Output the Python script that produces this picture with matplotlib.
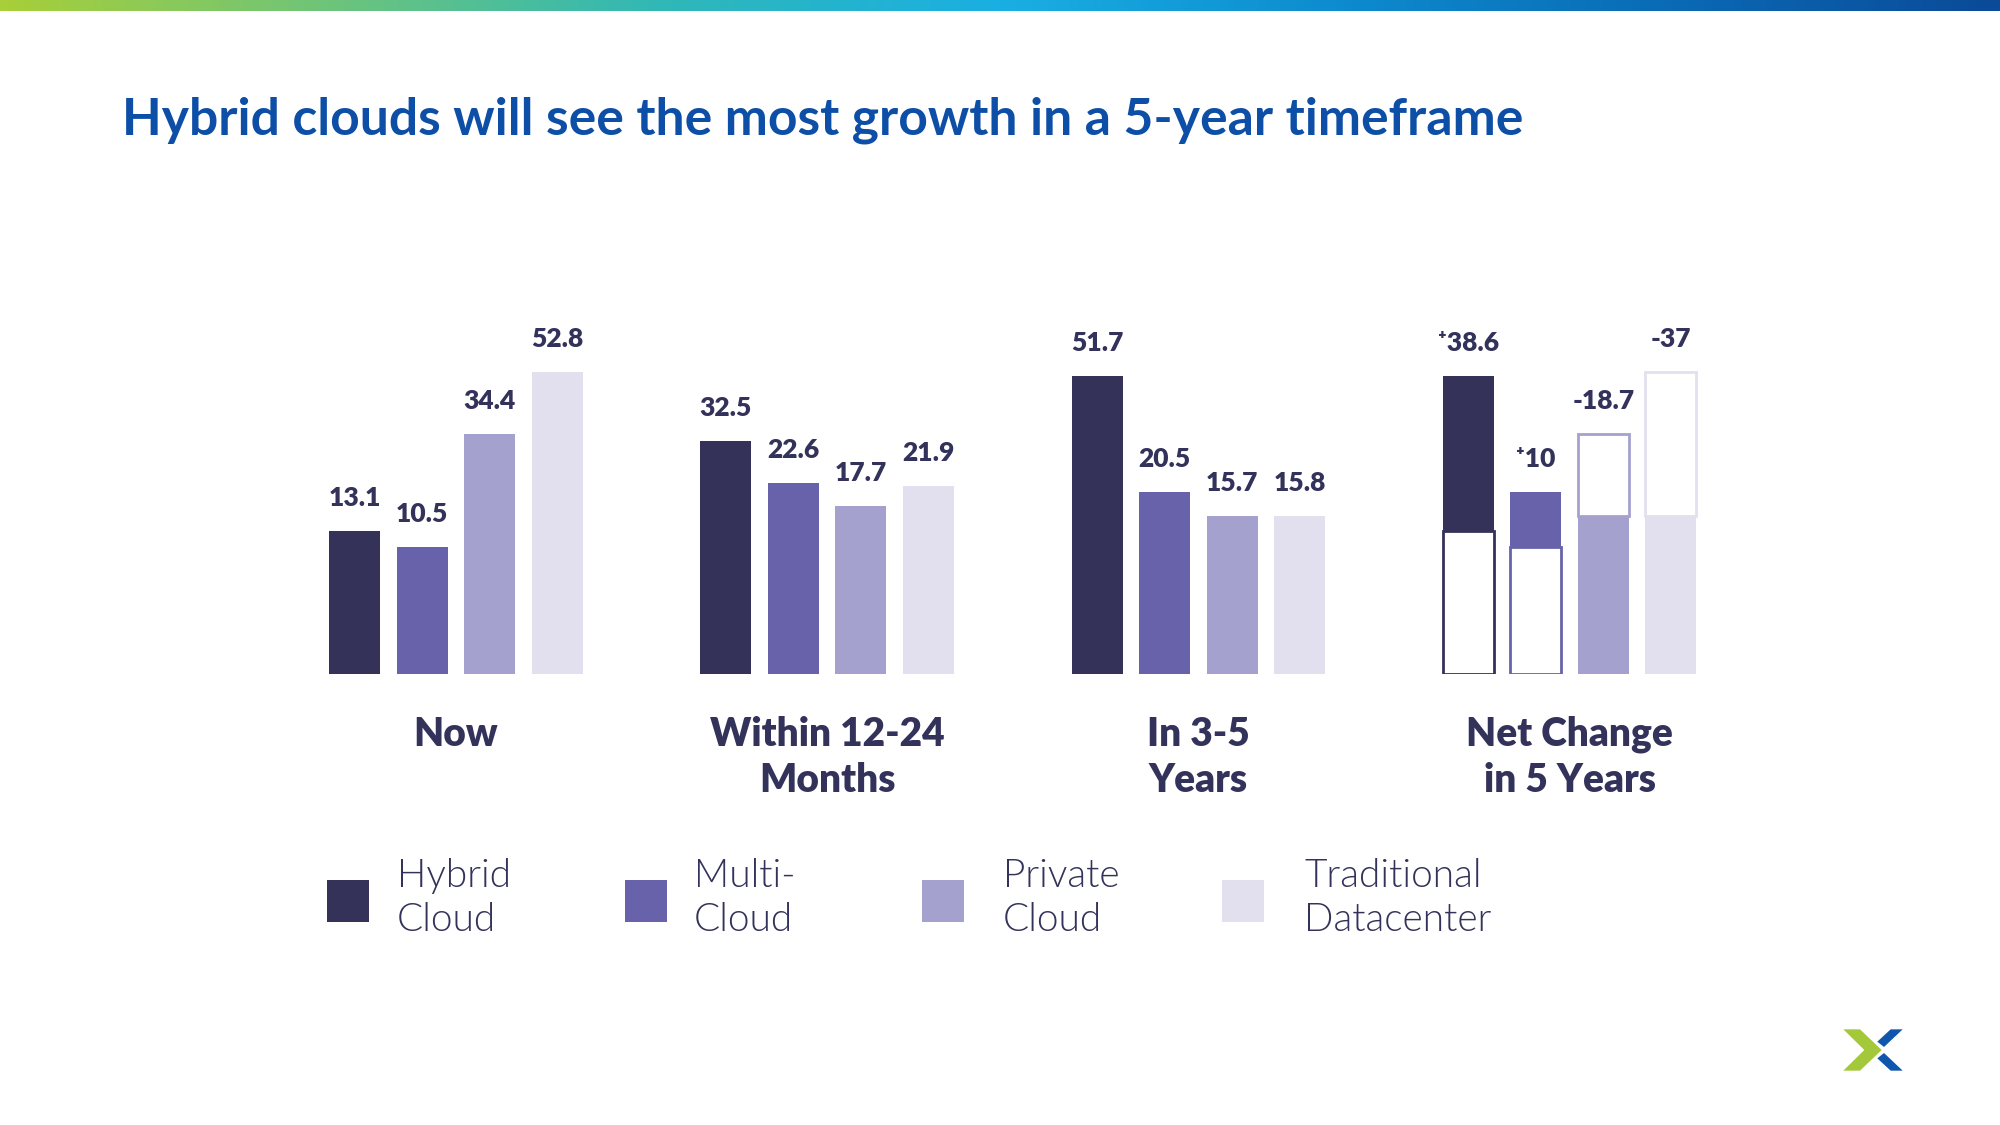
import numpy as np
import matplotlib
matplotlib.use("Agg")
import matplotlib.pyplot as plt
from matplotlib.colors import LinearSegmentedColormap
from matplotlib.patches import Polygon, Rectangle

plt.rcParams['font.family'] = ['Lato', 'DejaVu Sans']

# ---------------- data ----------------
title = "Hybrid clouds will see the most growth in a 5-year timeframe"
groups = ["Now", "Within 12-24\nMonths", "In 3-5\nYears", "Net Change\nin 5 Years"]
series = ["Hybrid\nCloud", "Multi-\nCloud", "Private\nCloud", "Traditional\nDatacenter"]
now = [13.1, 10.5, 34.4, 52.8]
within_12_24 = [32.5, 22.6, 17.7, 21.9]
in_3_5 = [51.7, 20.5, 15.7, 15.8]
net_change = [38.6, 10, -18.7, -37]
net_labels = ["\u207a38.6", "\u207a10", "-18.7", "-37"]

# ---------------- style ----------------
colors = ["#35325a", "#6862aa", "#a5a1cf", "#e2e0ef"]
text_dark = "#33325a"
title_blue = "#0d4fa6"

W, Hh = 2000, 1125
fig = plt.figure(figsize=(W / 100, Hh / 100), dpi=100)
fig.patch.set_facecolor("white")

deco = fig.add_axes([0, 0, 1, 1])
deco.set_xlim(0, W)
deco.set_ylim(Hh, 0)
deco.axis("off")

# top gradient strip
grad = LinearSegmentedColormap.from_list(
    "strip", ["#a8cf38", "#6cc47c", "#2fb8b8", "#1aafe3", "#0d8ccf", "#0a6bb6", "#0a4a98"])
deco.imshow(np.linspace(0, 1, 512)[None, :], cmap=grad, aspect="auto",
            extent=(0, W, 11, 0), zorder=1)

# title fitted to the reference width
t = deco.text(122, 135, title, color=title_blue, fontsize=34, fontweight="bold",
              va="baseline", ha="left")
fig.canvas.draw()
bb = t.get_window_extent()
t.set_fontsize(34 * 1404 / bb.width)

# ---------------- chart axes (power scale as in the graphic) ----------------
p = 0.536
c = 36.0
ymax = 60.0
baseline_px = 674
ax_h = c * ymax ** p
ax_left, ax_w = 300, 1430
ax = fig.add_axes([ax_left / W, (Hh - baseline_px) / Hh, ax_w / W, ax_h / Hh])
ax.set_zorder(2)
ax.patch.set_visible(False)
ax.set_yscale("function", functions=(lambda v: np.sign(v) * np.abs(v) ** p,
                                     lambda v: np.sign(v) * np.abs(v) ** (1 / p)))
ax.set_ylim(0, ymax)
unit = 67.5
x0 = -(354.5 - ax_left) / unit
ax.set_xlim(x0, x0 + ax_w / unit)
ax.axis("off")

gap = 5.5
bw = 51 / unit
label_kw = dict(textcoords="offset points", ha="center", va="baseline",
                fontsize=19, fontweight="heavy", color=text_dark, annotation_clip=False)

for g, vals in enumerate([now, within_12_24, in_3_5]):
    for i, v in enumerate(vals):
        x = g * gap + i
        ax.bar(x, v, width=bw, color=colors[i], linewidth=0)
        ax.annotate(f"{v:g}", (x, v), xytext=(0, 18), **label_kw)

# net change group
for i, (n, d) in enumerate(zip(now, net_change)):
    x = 3 * gap + i
    end = n + d
    if d >= 0:
        ax.bar(x, n, width=bw, facecolor="white", edgecolor=colors[i], linewidth=2.0)
        ax.bar(x, d, bottom=n, width=bw, color=colors[i], linewidth=0)
    else:
        ax.bar(x, end, width=bw, color=colors[i], linewidth=0)
        ax.bar(x, -d, bottom=end, width=bw, facecolor="white", edgecolor=colors[i],
               linewidth=2.0)
    ax.annotate(net_labels[i], (x, max(n, end)), xytext=(0, 18), **label_kw)

# group labels
for g, name in enumerate(groups):
    ax.annotate(name, (g * gap + 1.5, 0), xycoords=("data", "axes fraction"),
                xytext=(0, -30), textcoords="offset points", ha="center", va="top",
                fontsize=28, fontweight="heavy", color=text_dark, linespacing=1.3,
                annotation_clip=False)

# legend
leg_sq_x = [327, 625, 922, 1222]
leg_tx_x = [397, 694, 1003, 1304]
for i, name in enumerate(series):
    deco.add_patch(Rectangle((leg_sq_x[i], 880), 42, 42, color=colors[i], linewidth=0, zorder=3))
    deco.text(leg_tx_x[i], 898, name, fontsize=28, fontweight=300, color=text_dark,
              va="center", ha="left", linespacing=1.25, zorder=3)

# logo
def lp(pts):
    return [(1800 + px / 3, 1000 + py / 3) for px, py in pts]

deco.add_patch(Polygon(lp([(130, 88), (180, 88), (245, 150), (180, 212), (130, 212), (193, 150)]),
                       closed=True, color="#a3c93a", linewidth=0, zorder=3))
deco.add_patch(Polygon(lp([(232, 125), (272, 88), (308, 88), (252, 141)]),
                       closed=True, color="#0f56ad", linewidth=0, zorder=3))
deco.add_patch(Polygon(lp([(252, 159), (308, 212), (272, 212), (232, 175)]),
                       closed=True, color="#0f56ad", linewidth=0, zorder=3))

fig.savefig("out.png", dpi=100, facecolor="white")
